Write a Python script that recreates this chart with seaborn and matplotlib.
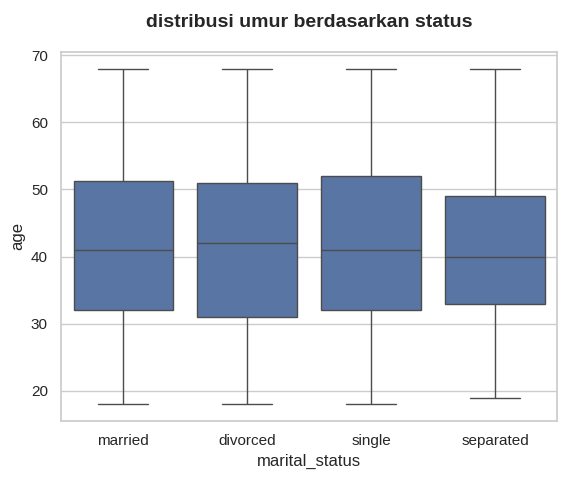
import numpy as np
import pandas as pd
import matplotlib
matplotlib.use('Agg')
import matplotlib.pyplot as plt
import seaborn as sns

sns.set_theme(style="whitegrid")
plt.rcParams['font.family'] = ['Liberation Sans', 'DejaVu Sans']

# marital_status categories and the five-number summary read off each box
# (min, Q1, median, Q3, max)
categories = ["married", "divorced", "single", "separated"]
married_age = [18, 32, 41, 51.25, 68]
divorced_age = [18, 31, 42, 51, 68]
single_age = [18, 32, 41, 52, 68]
separated_age = [19, 33, 40, 49, 68]

rows = []
for status, ages in zip(categories, [married_age, divorced_age, single_age, separated_age]):
    for a in ages:
        rows.append({"marital_status": status, "age": a})
df = pd.DataFrame(rows)

fig, ax = plt.subplots(figsize=(5.66, 4.79), dpi=100)
fig.subplots_adjust(left=0.108, right=0.984, top=0.892, bottom=0.121)

sns.boxplot(data=df, x="marital_status", y="age", order=categories, ax=ax)
ax.set_title("distribusi umur berdasarkan status", fontsize=14, fontweight="bold", pad=18)

fig.savefig("out.png", dpi=100)
